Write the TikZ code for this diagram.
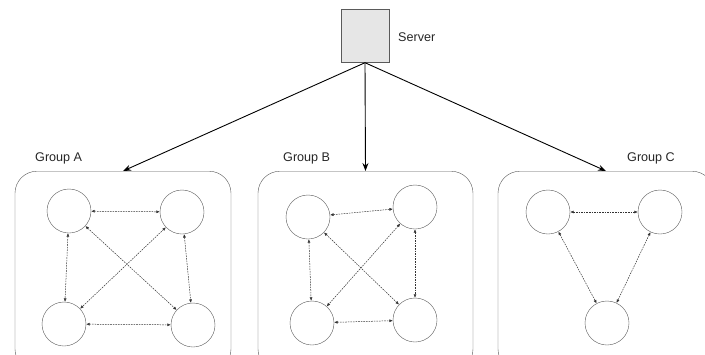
\documentclass[tikz,border=0pt]{standalone}
\usepackage{xcolor}
\usepackage{fontspec}
\setmainfont{Liberation Sans}
\usepackage{tikz}
\usetikzlibrary{arrows.meta}
\tikzset{>=stealth}
\definecolor{boxgray}{HTML}{E6E6E6}
\definecolor{edgegray}{HTML}{5A5A5A}
\tikzset{
  srv/.style={draw=edgegray, fill=boxgray, minimum width=48pt, minimum height=53pt, inner sep=0},
  grp/.style={draw=edgegray, rounded corners=22pt, minimum width=#1, minimum height=200pt, inner sep=0, anchor=north},
  peer/.style={circle, draw=edgegray, minimum size=44pt, inner sep=0},
  feed/.style={-{Stealth[length=8pt,width=6pt]}, line width=0.9pt},
  link/.style={{Latex[length=3.5pt,width=3pt]}-{Latex[length=3.5pt,width=3pt]}, line width=0.5pt, dash pattern=on 1.6pt off 1pt, black!80},
  lbl/.style={font=\fontsize{12.6}{15}\selectfont, text=black!85, inner sep=0}
}

\begin{document}
\begin{tikzpicture}[x=1pt,y=-1pt]
        \useasboundingbox (0,0) rectangle (705,354);
        % server on top
        \node[srv] (server) at (365,36) {};
        \node[lbl, anchor=west] (srvlbl) at (398,37) {Server};

        % the three groups
        \node[grp=216pt] (grpA) at (123,171) {};
        \node[grp=215pt] (grpB) at (365.5,171) {};
        \node[grp=216pt] (grpC) at (606,171) {};
        \node[lbl, anchor=west] (lblA) at (35,158) {Group A};
        \node[lbl, anchor=west] (lblB) at (283,158) {Group B};
        \node[lbl, anchor=west] (lblC) at (627,158) {Group C};

        \draw[feed] (server.south) -- (grpA.north);
        \draw[feed] (server.south) -- (grpB.north);
        \draw[feed] (server.south) -- (grpC.north);

        % group A, full mesh
        \node[peer] (a1) at (69,211) {};
        \node[peer] (a2) at (182,212) {};
        \node[peer] (a3) at (64,324) {};
        \node[peer] (a4) at (193,325) {};
        \draw[link] (a1) -- (a2);
        \draw[link] (a3) -- (a4);
        \draw[link] (a1) -- (a3);
        \draw[link] (a2) -- (a4);
        \draw[link] (a1) -- (a4);
        \draw[link] (a2) -- (a3);

        % group B, full mesh
        \node[peer] (b1) at (308,217) {};
        \node[peer] (b2) at (415,207) {};
        \node[peer] (b3) at (312,323) {};
        \node[peer] (b4) at (415,320) {};
        \draw[link] (b1) -- (b2);
        \draw[link] (b3) -- (b4);
        \draw[link] (b1) -- (b3);
        \draw[link] (b2) -- (b4);
        \draw[link] (b1) -- (b4);
        \draw[link] (b2) -- (b3);

        % group C, ring
        \node[peer] (c1) at (548,212) {};
        \node[peer] (c2) at (660,212) {};
        \node[peer] (c3) at (607,323) {};
        \draw[link] (c1) -- (c2);
        \draw[link] (c1) -- (c3);
        \draw[link] (c2) -- (c3);
      \end{tikzpicture}
\end{document}
